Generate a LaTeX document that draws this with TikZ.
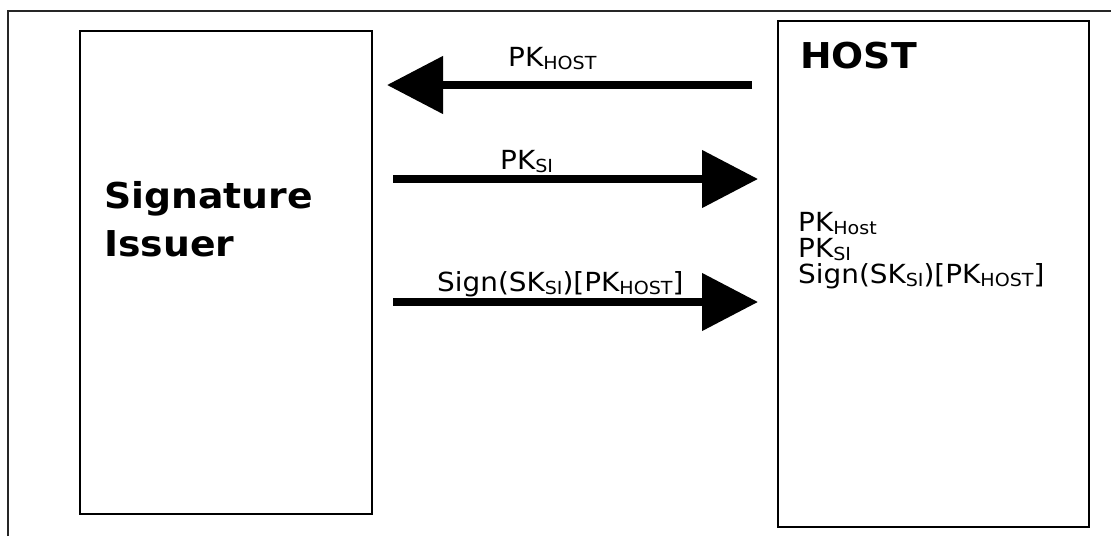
\documentclass[tikz,border=0pt]{standalone}
\usepackage{fontspec}
\setmainfont{DejaVu Sans}[FakeStretch=1.06]
\usetikzlibrary{arrows.meta}
% lowered, smaller index text
\newcommand{\idx}[1]{\raisebox{-3.8pt}{\fontsize{18}{18}\selectfont #1}}
\begin{document}
\begin{tikzpicture}[x=1pt,y=-1pt,
  box/.style={draw=black, line width=2pt, inner sep=0pt},
  flow/.style={line width=8pt, -{Triangle[length=56pt,width=56pt]}},
  title/.style={font=\fontsize{35.6}{35.6}\selectfont\bfseries, inner sep=0pt, anchor=base west},
  lbl/.style={font=\fontsize{26.3}{26.3}\selectfont, inner sep=0pt, anchor=base west}]
\useasboundingbox (0,0) rectangle (1111,536);
% outer frame
\draw[line width=2pt, black!85] (8,536) -- (8,11) -- (1111,11);

% the two parties
\node[box, minimum width=292pt, minimum height=483pt] (issuer) at (226,272.5) {};
\node[box, minimum width=311pt, minimum height=506pt] (host) at (933.5,274) {};

\node[title] (issuerA) at (104,208) {Signature};
\node[title] (issuerB) at (104,256) {Issuer};
\node[title] (hostT) at (800,68) {HOST};

% keys held by the host
\node[lbl] (h1) at (798,231) {PK\idx{Host}};
\node[lbl] (h2) at (798,257) {PK\idx{SI}};
\node[lbl] (h3) at (798,283) {Sign(SK\idx{SI})[PK\idx{HOST}]};

% messages
\coordinate (m1from) at (752,85);
\coordinate (m1to) at (387,85);
\coordinate (m2from) at (393,179);
\coordinate (m2to) at (758,179);
\coordinate (m3from) at (393,302);
\coordinate (m3to) at (758,302);
\draw[flow] (m1from) -- (m1to);
\draw[flow] (m2from) -- (m2to);
\draw[flow] (m3from) -- (m3to);

\node[lbl] (l1) at (508,66) {PK\idx{HOST}};
\node[lbl] (l2) at (500,169) {PK\idx{SI}};
\node[lbl] (l3) at (437,291) {Sign(SK\idx{SI})[PK\idx{HOST}]};
\end{tikzpicture}
\end{document}
